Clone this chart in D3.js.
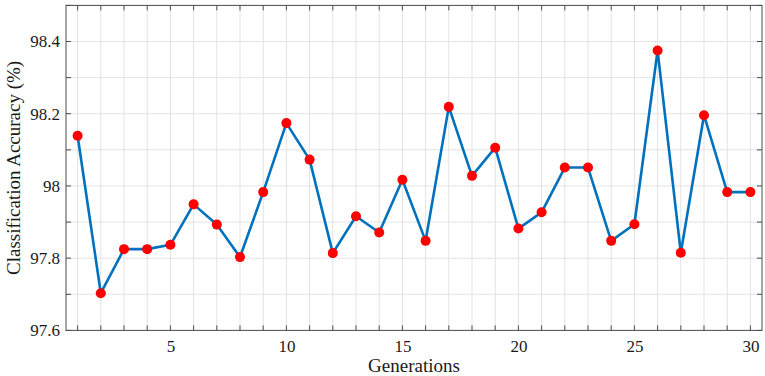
<!DOCTYPE html>
<html>
<head>
<meta charset="utf-8">
<script src="https://cdn.jsdelivr.net/npm/d3@7"></script>
<style>
  body { margin: 0; background: #fff; }
  svg text { font-family: "Liberation Serif", "Times New Roman", serif; fill: #1a1a1a; }
</style>
</head>
<body>
<div id="chart"></div>
<script>
// generations and accuracy values
var generations = d3.range(1, 31);
var accuracy = [98.139, 97.703, 97.825, 97.825, 97.837, 97.949, 97.893, 97.803, 97.983, 98.174,
                98.073, 97.814, 97.916, 97.871, 98.017, 97.848, 98.219, 98.028, 98.106, 97.882,
                97.927, 98.051, 98.051, 97.848, 97.894, 98.375, 97.815, 98.196, 97.983, 97.983];
var xTickLabels = [5, 10, 15, 20, 25, 30];
var yTickLabels = [97.6, 97.8, 98, 98.2, 98.4];

var data = generations.map(function(g, i) { return {gen: g, acc: accuracy[i]}; });

var W = 765, H = 376;
var margin = {top: 5.4, right: 3, bottom: 45.6, left: 66};
var width = W - margin.left - margin.right,
    height = H - margin.top - margin.bottom;
var serif = '"Liberation Serif", "Times New Roman", serif';

var svg = d3.select("#chart").append("svg")
  .attr("width", W).attr("height", H);
var g = svg.append("g")
  .attr("transform", "translate(" + margin.left + "," + margin.top + ")");

var x = d3.scaleLinear().domain([0.5, 30.5]).range([0, width]);
var y = d3.scaleLinear().domain([97.6, 98.5]).range([height, 0]);

var minorX = generations;
var minorY = d3.range(97.6, 98.5001, 0.1).map(function(v) { return +v.toFixed(1); });

// grid
g.append("g").selectAll("line").data(minorX).enter().append("line")
  .attr("x1", d => x(d)).attr("x2", d => x(d))
  .attr("y1", 0).attr("y2", height)
  .attr("stroke", "#e3e3e3").attr("stroke-width", 1);
g.append("g").selectAll("line").data(minorY).enter().append("line")
  .attr("x1", 0).attr("x2", width)
  .attr("y1", d => y(d)).attr("y2", d => y(d))
  .attr("stroke", "#e3e3e3").attr("stroke-width", 1);

// inward ticks on all four sides
var tk = 5;
var ticksG = g.append("g").attr("stroke", "#4d4d4d").attr("stroke-width", 1);
minorX.forEach(function(d) {
  ticksG.append("line").attr("x1", x(d)).attr("x2", x(d)).attr("y1", height).attr("y2", height - tk);
  ticksG.append("line").attr("x1", x(d)).attr("x2", x(d)).attr("y1", 0).attr("y2", tk);
});
minorY.forEach(function(d) {
  ticksG.append("line").attr("x1", 0).attr("x2", tk).attr("y1", y(d)).attr("y2", y(d));
  ticksG.append("line").attr("x1", width).attr("x2", width - tk).attr("y1", y(d)).attr("y2", y(d));
});

// tick labels
var xAxis = g.append("g")
  .attr("transform", "translate(0," + height + ")")
  .call(d3.axisBottom(x).tickValues(xTickLabels).tickSize(0).tickPadding(10));
xAxis.select(".domain").remove();
xAxis.attr("font-family", serif).attr("font-size", 17);
xAxis.selectAll("text").attr("fill", "#1a1a1a");

var yAxis = g.append("g")
  .call(d3.axisLeft(y).tickValues(yTickLabels).tickSize(0).tickPadding(6)
    .tickFormat(function(d) { return String(+d.toFixed(1)); }));
yAxis.select(".domain").remove();
yAxis.attr("font-family", serif).attr("font-size", 17);
yAxis.selectAll("text").attr("fill", "#1a1a1a");

// frame
g.append("rect").attr("x", 0).attr("y", 0).attr("width", width).attr("height", height)
  .attr("fill", "none").attr("stroke", "#4d4d4d").attr("stroke-width", 1);

// line + markers
var line = d3.line().x(d => x(d.gen)).y(d => y(d.acc));
g.append("path").datum(data)
  .attr("d", line)
  .attr("fill", "none")
  .attr("stroke", "#0072BD")
  .attr("stroke-width", 2.6)
  .attr("stroke-linejoin", "round");

g.selectAll(".dot").data(data).enter().append("circle")
  .attr("class", "dot")
  .attr("cx", d => x(d.gen)).attr("cy", d => y(d.acc))
  .attr("r", 5).attr("fill", "#ff0000");

// axis titles
svg.append("text")
  .attr("x", margin.left + width / 2).attr("y", 372)
  .attr("text-anchor", "middle")
  .style("font-size", "19px")
  .text("Generations");

svg.append("text")
  .attr("transform", "translate(20," + (margin.top + height / 2) + ") rotate(-90)")
  .attr("text-anchor", "middle")
  .style("font-size", "19px")
  .text("Classification Accuracy (%)");
</script>
</body>
</html>
